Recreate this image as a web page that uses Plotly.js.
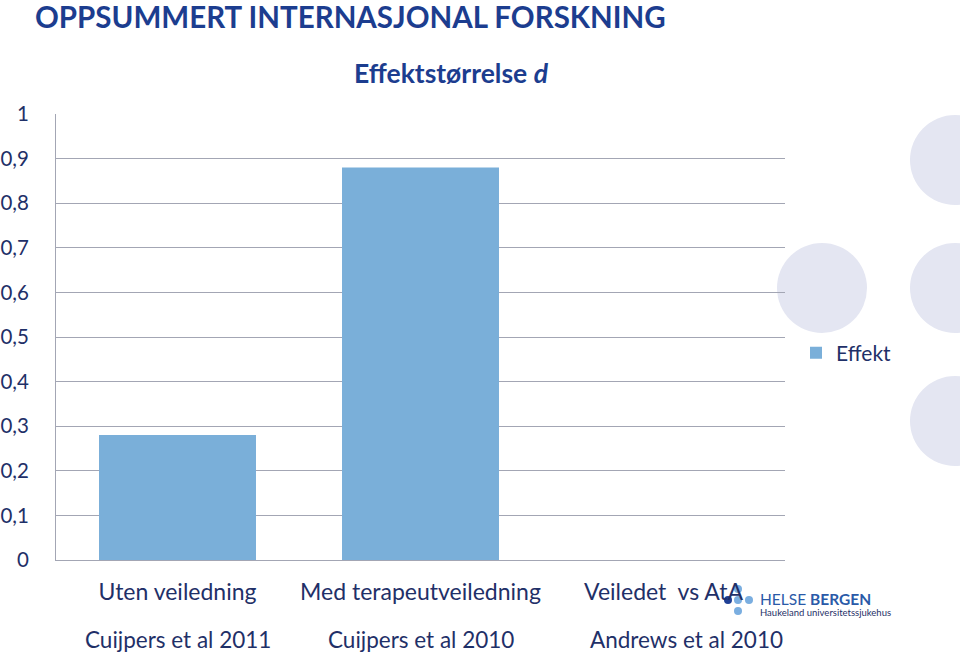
<!DOCTYPE html>
<html>
<head>
<meta charset="utf-8">
<script src="https://cdn.plot.ly/plotly-3.0.1.min.js"></script>
<style>html,body{margin:0;padding:0;background:#fff;}#chart{width:960px;height:656px;}</style>
</head>
<body>
<div id="chart"></div>
<script>
const categories = ["Uten veiledning", "Med terapeutveiledning", "Veiledet  vs AtA"];
const studies = ["Cuijpers et al 2011", "Cuijpers et al 2010", "Andrews et al 2010"];
const effekt = [0.28, 0.88, 0.0];
const seriesName = "Effekt";
const yTicks = [0, 0.1, 0.2, 0.3, 0.4, 0.5, 0.6, 0.7, 0.8, 0.9, 1];
const yTickText = ["0", "0,1", "0,2", "0,3", "0,4", "0,5", "0,6", "0,7", "0,8", "0,9", "1"];

const FONT = "Lato, 'Open Sans', sans-serif";
const NAVY = "#1f3068";
const BAR = "#7aafd9";
const GRID = "#a3a6b4";

const trace = {
  type: "bar",
  x: categories,
  y: effekt,
  name: seriesName,
  marker: {color: BAR},
  showlegend: true,
  hoverinfo: "x+y"
};

const studyShift = [0, 0, 23];
const studyAnn = studies.map((s, i) => ({
  text: s, x: categories[i], xref: "x", y: -0.179, yref: "paper",
  xanchor: "center", yanchor: "middle", showarrow: false, xshift: studyShift[i],
  font: {family: FONT, size: 22.5, color: NAVY}
}));

function circle(cx, cy, r, color) {
  return {type: "circle", xref: "paper", yref: "paper", layer: "below",
    x0: (cx - r - 56) / 729, x1: (cx + r - 56) / 729,
    y0: (560 - cy - r) / 446, y1: (560 - cy + r) / 446,
    fillcolor: color, line: {width: 0}};
}
const deco = "#e4e6f2";
const shapes = [
  circle(822, 288, 45, deco),
  circle(955, 160, 45, deco),
  circle(955, 288, 45, deco),
  circle(955, 421, 45, deco),
  circle(738, 589, 4, "#7aaee0"),
  circle(728, 600, 4, "#1f3f95"),
  circle(738, 600, 4, "#7aaee0"),
  circle(749, 600, 4, "#7aaee0"),
  circle(738, 611, 4, "#7aaee0")
];

const layout = {
  width: 960, height: 656,
  margin: {l: 56, r: 175, t: 114, b: 96},
  paper_bgcolor: "#ffffff", plot_bgcolor: "#ffffff",
  separators: ", ",
  font: {family: FONT, color: NAVY},
  title: {
    text: "<b>OPPSUMMERT INTERNASJONAL FORSKNING</b>",
    x: 35 / 960, xanchor: "left", xref: "container",
    y: 1 - 18 / 656, yanchor: "middle", yref: "container",
    font: {family: FONT, size: 29.5, color: "#1c3d8f"}
  },
  bargap: 0.354,
  xaxis: {
    type: "category",
    showgrid: false, zeroline: false,
    showline: true, linecolor: GRID, linewidth: 1,
    ticks: "", ticklabelstandoff: 11,
    tickfont: {family: FONT, size: 23, color: NAVY},
    fixedrange: true
  },
  yaxis: {
    range: [0, 1],
    tickvals: yTicks, ticktext: yTickText,
    showgrid: true, gridcolor: GRID, gridwidth: 1,
    zeroline: false,
    showline: true, linecolor: GRID, linewidth: 1, mirror: false,
    ticks: "", ticklabelstandoff: 22,
    tickfont: {family: FONT, size: 20.5, color: NAVY},
    fixedrange: true
  },
  legend: {
    x: (796 - 56) / 729, xanchor: "left", xref: "paper",
    y: (560 - 353) / 446, yanchor: "middle", yref: "paper",
    font: {family: FONT, size: 21, color: NAVY},
    bgcolor: "rgba(0,0,0,0)", itemwidth: 30
  },
  shapes: shapes,
  annotations: [
    {text: "<b>Effektstørrelse <i>d</i></b>", xref: "paper", yref: "paper",
     x: (451 - 56) / 729, y: (560 - 73) / 446, xanchor: "center", yanchor: "middle",
     showarrow: false, font: {family: FONT, size: 26.5, color: "#1c3d8f"}},
    {text: "HELSE <b>BERGEN</b>", xref: "paper", yref: "paper",
     x: (758 - 56) / 729, y: (560 - 599) / 446, xanchor: "left", yanchor: "middle",
     showarrow: false, font: {family: FONT, size: 15.5, color: "#2a5aa8"}},
    {text: "Haukeland universitetssjukehus", xref: "paper", yref: "paper",
     x: (758 - 56) / 729, y: (560 - 612) / 446, xanchor: "left", yanchor: "middle",
     showarrow: false, font: {family: FONT, size: 9.5, color: "#1f3068"}}
  ].concat(studyAnn)
};

Plotly.newPlot("chart", [trace], layout, {displayModeBar: false, staticPlot: true});
</script>
</body>
</html>
